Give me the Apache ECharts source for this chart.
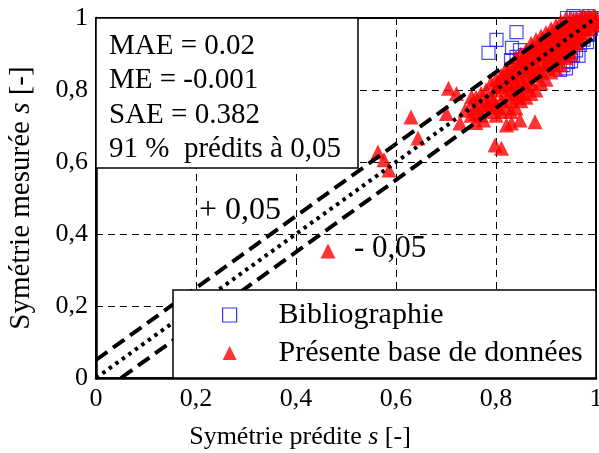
<!DOCTYPE html>
<html>
<head>
<meta charset="utf-8">
<script src="https://cdn.jsdelivr.net/npm/echarts@6/dist/echarts.min.js"></script>
<style>
html,body{margin:0;padding:0;background:#fff;}
#chart{width:599px;height:453px;}
</style>
</head>
<body>
<div id="chart"></div>
<script>
// ---- data ----
var xTickLabels = ['0', '0,2', '0,4', '0,6', '0,8', '1'];
var yTickLabels = ['0', '0,2', '0,4', '0,6', '0,8', '1'];

var biblioPoints = [
  [0.785,0.903],[0.801,0.939],[0.841,0.961],[0.832,0.917],[0.848,0.911],[0.841,0.892],
  [0.858,0.897],[0.830,0.883],[0.880,0.878],[0.935,0.869],[0.944,0.878],[0.928,0.856],
  [0.954,0.897],[0.968,0.925],[0.982,0.933],[0.984,0.953],[0.968,0.981],[0.994,0.989],
  [0.942,1.0],[0.96,1.0],[0.975,1.0],[0.99,1.0],[1.0,1.0],[1.0,0.98],[0.99,0.97],
  [0.95,0.88],[0.94,0.86],[0.96,0.91],[0.975,0.94],[0.92,0.87],[0.85,0.885],
  [0.955,1.005],[0.985,1.005],[0.995,0.995],[0.965,0.895],[0.95,0.905]
];

var presentPoints = [
  [0.464,0.353],[0.564,0.628],[0.576,0.606],[0.586,0.578],[0.630,0.725],[0.644,0.667],
  [0.705,0.805],[0.721,0.790],[0.751,0.781],[0.701,0.735],[0.738,0.744],[0.761,0.735],
  [0.728,0.708],[0.775,0.717],[0.785,0.763],[0.801,0.754],[0.821,0.703],[0.831,0.708],
  [0.848,0.717],[0.878,0.712],[0.798,0.647],[0.811,0.638],[0.795,0.772],[0.805,0.819],
  [0.814,0.839],
  [0.75,0.76],[0.75,0.73],
  [0.76,0.78],[0.76,0.75],[0.76,0.71],
  [0.77,0.79],[0.77,0.76],[0.77,0.73],
  [0.78,0.80],[0.78,0.77],[0.78,0.74],
  [0.79,0.82],[0.79,0.78],[0.79,0.75],
  [0.80,0.83],[0.80,0.80],[0.80,0.76],[0.80,0.73],
  [0.81,0.84],[0.81,0.81],[0.81,0.77],[0.81,0.74],
  [0.82,0.86],[0.82,0.83],[0.82,0.79],[0.82,0.75],
  [0.83,0.87],[0.83,0.84],[0.83,0.80],[0.83,0.77],[0.83,0.74],
  [0.84,0.89],[0.84,0.85],[0.84,0.82],[0.84,0.78],[0.84,0.75],
  [0.85,0.90],[0.85,0.87],[0.85,0.83],[0.85,0.79],[0.85,0.77],
  [0.86,0.91],[0.86,0.88],[0.86,0.85],[0.86,0.81],[0.86,0.78],
  [0.87,0.93],[0.87,0.90],[0.87,0.86],[0.87,0.82],[0.87,0.79],
  [0.88,0.94],[0.88,0.91],[0.88,0.87],[0.88,0.84],[0.88,0.80],
  [0.89,0.95],[0.89,0.92],[0.89,0.89],[0.89,0.85],[0.89,0.82],
  [0.90,0.96],[0.90,0.93],[0.90,0.90],[0.90,0.87],[0.90,0.83],
  [0.91,0.97],[0.91,0.94],[0.91,0.91],[0.91,0.88],[0.91,0.85],
  [0.92,0.98],[0.92,0.95],[0.92,0.92],[0.92,0.89],[0.92,0.86],
  [0.93,0.99],[0.93,0.96],[0.93,0.93],[0.93,0.90],[0.93,0.87],
  [0.94,1.00],[0.94,0.97],[0.94,0.94],[0.94,0.91],[0.94,0.89],
  [0.95,1.00],[0.95,0.98],[0.95,0.95],[0.95,0.92],[0.95,0.90],
  [0.96,1.00],[0.96,0.99],[0.96,0.96],[0.96,0.93],
  [0.97,1.00],[0.97,0.98],[0.97,0.95],
  [0.98,1.00],[0.98,0.99],[0.98,0.97],
  [0.99,1.00],[0.99,0.98],
  [1.00,1.00],[1.00,0.99],
  [0.805,0.815],[0.815,0.825],[0.825,0.845],[0.835,0.855],[0.845,0.87],[0.855,0.885],
  [0.865,0.895],[0.875,0.91],[0.885,0.925],[0.895,0.94],[0.905,0.95],[0.915,0.955],
  [0.925,0.965],[0.935,0.975],[0.945,0.985],[0.955,0.99],[0.965,0.995],[0.975,1.005],
  [0.985,1.005],[0.995,1.005],[0.825,0.815],[0.835,0.825],[0.845,0.84],[0.855,0.855],
  [0.865,0.865],[0.875,0.88],[0.885,0.895],[0.895,0.905],[0.905,0.915],[0.915,0.925],
  [0.925,0.935],[0.935,0.945],[0.945,0.955],[0.955,0.965],[0.965,0.975],[0.975,0.985],
  [0.835,0.79],[0.845,0.80],[0.855,0.815],[0.865,0.83],[0.875,0.845],[0.885,0.855],
  [0.895,0.865],[0.905,0.875],[0.915,0.89],[0.925,0.90],[0.935,0.91],[0.945,0.925],
  [0.955,0.935],[0.965,0.945],[0.975,0.96],[0.985,0.97],[0.995,0.985]
];

var lineEqual = [[0,0],[1,1]];
var linePlus = [[0,0.05],[0.95,1]];
var lineMinus = [[0.05,0],[1,0.95]];

var statsLines = ['MAE = 0.02', 'ME = -0.001', 'SAE = 0.382', '91 %  prédits à 0,05'];
var seriesNames = ['Bibliographie', 'Présente base de données'];

// ---- chart ----
var FONT = 'Liberation Serif';
var chart = echarts.init(document.getElementById('chart'), null, {renderer: 'canvas'});

function tickFmt(labels) {
  return function (v) { return labels[Math.round(v / 0.2)]; };
}

var statsGraphics = [{
  type: 'rect', z: 50,
  shape: {x: 96, y: 18, width: 262, height: 150},
  style: {fill: '#fff', stroke: '#000', lineWidth: 1.5}
}];
statsLines.forEach(function (t, i) {
  statsGraphics.push({
    type: 'text', z: 51, x: 109, y: 46 + i * 34.5,
    style: {text: t, font: '29px "' + FONT + '"', fill: '#000', verticalAlign: 'middle', align: 'left'}
  });
});

var option = {
  backgroundColor: '#fff',
  animation: false,
  textStyle: {fontFamily: FONT},
  grid: {left: 96, right: 3, top: 18, bottom: 75, show: true, borderColor: '#000', borderWidth: 2,
         backgroundColor: 'transparent', containLabel: false, outerBoundsMode: 'none'},
  xAxis: {
    type: 'value', min: 0, max: 1, interval: 0.2,
    axisLine: {show: true, onZero: false, lineStyle: {color: '#000', width: 2.5}},
    axisTick: {show: false},
    splitLine: {show: true, lineStyle: {color: '#000', width: 1, type: [7, 5]}},
    axisLabel: {formatter: tickFmt(xTickLabels), color: '#000', fontSize: 26, fontFamily: FONT, margin: 8},
    name: '{n|Symétrie prédite }{i|s}{n| [-]}',
    nameLocation: 'middle', nameGap: 46,
    nameTextStyle: {padding: [0, 92, 0, 0], rich: {n: {fontSize: 26, fontFamily: FONT, color: '#000'}, i: {fontSize: 26, fontFamily: FONT, fontStyle: 'italic', color: '#000'}}}
  },
  yAxis: {
    type: 'value', min: 0, max: 1, interval: 0.2,
    axisLine: {show: true, onZero: false, lineStyle: {color: '#000', width: 2.5}},
    axisTick: {show: false},
    splitLine: {show: true, lineStyle: {color: '#000', width: 1, type: [7, 5]}},
    axisLabel: {formatter: tickFmt(yTickLabels), color: '#000', fontSize: 26, fontFamily: FONT, margin: 8},
    name: '{n|Symétrie mesurée }{i|s}{n| [-]}',
    nameLocation: 'middle', nameGap: 60, nameRotate: 90,
    nameTextStyle: {rich: {n: {fontSize: 29, fontFamily: FONT, color: '#000'}, i: {fontSize: 29, fontFamily: FONT, fontStyle: 'italic', color: '#000'}}}
  },
  legend: {
    orient: 'vertical', left: 222, top: 300, z: 60, padding: 0, itemGap: 8,
    itemWidth: 14, itemHeight: 14,
    textStyle: {fontSize: 30, fontFamily: FONT, color: '#000', padding: [0, 0, 0, 37]},
    data: [
      {name: seriesNames[0], icon: 'rect', itemStyle: {color: 'transparent', borderColor: '#0000ff', borderWidth: 1.2}},
      {name: seriesNames[1], icon: 'triangle', itemStyle: {color: '#ff0000'}}
    ]
  },
  series: [
    {
      name: seriesNames[0], type: 'scatter', z: 2, clip: false,
      symbol: 'rect', symbolSize: 13,
      itemStyle: {color: 'transparent', borderColor: '#1a1aff', borderWidth: 1.2},
      data: biblioPoints
    },
    {
      name: seriesNames[1], type: 'scatter', z: 3, clip: false,
      symbol: 'triangle', symbolSize: 15,
      itemStyle: {color: '#ff0000'},
      data: presentPoints
    },
    {
      name: 'y=x', type: 'line', z: 5, symbol: 'none', silent: true,
      lineStyle: {color: '#000', width: 4, type: [3.5, 4.5], cap: 'butt'},
      data: lineEqual
    },
    {
      name: '+0.05', type: 'line', z: 5, symbol: 'none', silent: true,
      lineStyle: {color: '#000', width: 4, type: [14, 7], cap: 'butt'},
      data: linePlus
    },
    {
      name: '-0.05', type: 'line', z: 5, symbol: 'none', silent: true,
      lineStyle: {color: '#000', width: 4, type: [14, 7], cap: 'butt'},
      data: lineMinus
    }
  ],
  graphic: statsGraphics.concat([
    {
      type: 'rect', z: 50,
      shape: {x: 173, y: 290, width: 423, height: 88},
      style: {fill: '#fff', stroke: '#000', lineWidth: 1.5}
    },
    {
      type: 'text', z: 51, x: 199, y: 211,
      style: {text: '+ 0,05', font: '32px "' + FONT + '"', fill: '#000', verticalAlign: 'middle'}
    },
    {
      type: 'text', z: 51, x: 354, y: 249,
      style: {text: '- 0,05', font: '31px "' + FONT + '"', fill: '#000', verticalAlign: 'middle'}
    }
  ])
};
chart.setOption(option);
</script>
</body>
</html>
